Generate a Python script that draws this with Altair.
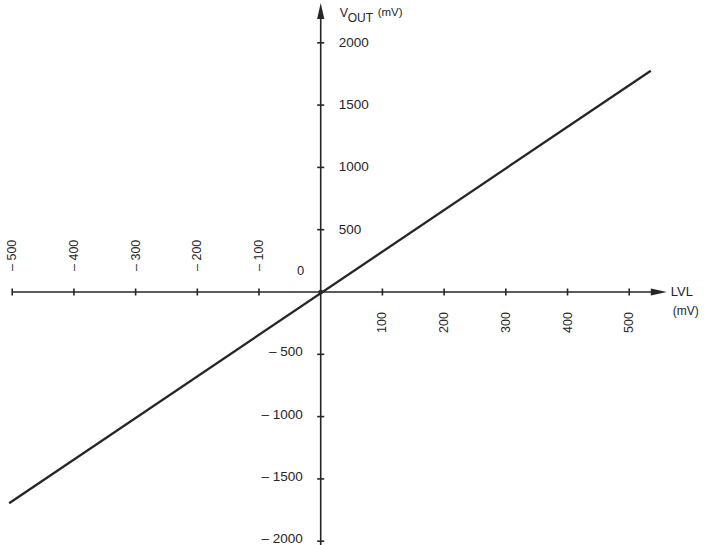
import altair as alt
import pandas as pd

# Transfer characteristic: output voltage vs. LVL input (mV)
lvl_mv = [-505, 535]
vout_mv = [-1696, 1776]

# Axis ticks and their labels
x_ticks = [-500, -400, -300, -200, -100, 100, 200, 300, 400, 500]
x_neg_ticks = [-500, -400, -300, -200, -100]
x_neg_labels = ["\u2013 500", "\u2013 400", "\u2013 300", "\u2013 200", "\u2013 100"]
x_pos_ticks = [100, 200, 300, 400, 500]
x_pos_labels = ["100", "200", "300", "400", "500"]

y_ticks = [2000, 1500, 1000, 500, -500, -1000, -1500, -2000]
y_pos_ticks = [2000, 1500, 1000, 500]
y_pos_labels = ["2000", "1500", "1000", "500"]
y_neg_ticks = [-500, -1000, -1500, -2000]
y_neg_labels = ["\u2013 500", "\u2013 1000", "\u2013 1500", "\u2013 2000"]

INK = "#262626"
FONT = "Liberation Sans"

xs = alt.Scale(domain=[-519.8, 627.7], nice=False, zero=False)
ys = alt.Scale(domain=[-2030.5, 2343.5], nice=False, zero=False)


def X(field):
    return alt.X(field, type="quantitative", scale=xs, axis=None)


def Y(field):
    return alt.Y(field, type="quantitative", scale=ys, axis=None)


def XD(v):
    return alt.X(datum=v, scale=xs, axis=None)


def YD(v):
    return alt.Y(datum=v, scale=ys, axis=None)


curve_df = pd.DataFrame({"lvl": lvl_mv, "vout": vout_mv})
curve = alt.Chart(curve_df).mark_line(color=INK, strokeWidth=2.3).encode(
    x=X("lvl"), y=Y("vout")
)

# Axis lines crossing at the origin
h_axis = alt.Chart(pd.DataFrame({"a": [-500], "b": [550], "y": [0]})).mark_rule(
    color=INK, strokeWidth=1.6
).encode(x=X("a"), x2="b", y=Y("y"))
v_axis = alt.Chart(pd.DataFrame({"a": [-2031], "b": [2250], "x": [0]})).mark_rule(
    color=INK, strokeWidth=1.6
).encode(y=Y("a"), y2="b", x=X("x"))

# Arrow heads
arrow_right = alt.Chart(pd.DataFrame({"x": [548], "y": [0]})).mark_point(
    shape="M-1,-0.45L1,0L-1,0.45Z", size=256, filled=True, color=INK, opacity=1
).encode(x=X("x"), y=Y("y"))
arrow_up = alt.Chart(pd.DataFrame({"x": [0], "y": [2255]})).mark_point(
    shape="M-0.45,1L0,-1L0.45,1Z", size=256, filled=True, color=INK, opacity=1
).encode(x=X("x"), y=Y("y"))

origin = alt.Chart(pd.DataFrame({"x": [0], "y": [0]})).mark_point(
    shape="circle", size=22, filled=True, color=INK, opacity=1
).encode(x=X("x"), y=Y("y"))

# Tick marks
x_tick_marks = alt.Chart(pd.DataFrame({"x": x_ticks, "y": [0] * len(x_ticks)})).mark_tick(
    orient="vertical", size=7, thickness=1.6, color=INK, opacity=1
).encode(x=X("x"), y=Y("y"))
y_tick_marks = alt.Chart(pd.DataFrame({"y": y_ticks, "x": [0] * len(y_ticks)})).mark_tick(
    orient="horizontal", size=7, thickness=1.6, color=INK, opacity=1
).encode(x=X("x"), y=Y("y"))

# Tick labels
x_neg_text = alt.Chart(pd.DataFrame({"x": x_neg_ticks, "t": x_neg_labels})).mark_text(
    angle=270, align="left", baseline="middle", font=FONT, fontSize=12.5,
    color=INK, yOffset=-21
).encode(x=X("x"), y=YD(0), text="t")
x_pos_text = alt.Chart(pd.DataFrame({"x": x_pos_ticks, "t": x_pos_labels})).mark_text(
    angle=270, align="left", baseline="middle", font=FONT, fontSize=12.5,
    color=INK, yOffset=41
).encode(x=X("x"), y=YD(0), text="t")

y_pos_text = alt.Chart(pd.DataFrame({"y": y_pos_ticks, "t": y_pos_labels})).mark_text(
    align="left", baseline="middle", font=FONT, fontSize=13.5, color=INK, xOffset=18
).encode(y=Y("y"), x=XD(0), text="t")
y_neg_text = alt.Chart(pd.DataFrame({"y": y_neg_ticks, "t": y_neg_labels})).mark_text(
    align="right", baseline="middle", font=FONT, fontSize=13.5, color=INK,
    xOffset=-18, yOffset=-2
).encode(y=Y("y"), x=XD(0), text="t")

zero_text = alt.Chart(pd.DataFrame({"t": ["0"]})).mark_text(
    align="center", baseline="middle", font=FONT, fontSize=13, color=INK,
    xOffset=-20, yOffset=-21
).encode(x=XD(0), y=YD(0), text="t")

# Axis titles
lvl_title = alt.Chart(pd.DataFrame({"t": ["LVL"]})).mark_text(
    align="left", baseline="middle", font=FONT, fontSize=13, color=INK, xOffset=4
).encode(x=XD(561), y=YD(0), text="t")
lvl_unit = alt.Chart(pd.DataFrame({"t": ["(mV)"]})).mark_text(
    align="left", baseline="middle", font=FONT, fontSize=12, color=INK, xOffset=6, yOffset=19
).encode(x=XD(561), y=YD(0), text="t")

vout_v = alt.Chart(pd.DataFrame({"t": ["V"]})).mark_text(
    align="left", baseline="middle", font=FONT, fontSize=12.5, color=INK, xOffset=19
).encode(x=XD(0), y=YD(2240), text="t")
vout_sub = alt.Chart(pd.DataFrame({"t": ["OUT"]})).mark_text(
    align="left", baseline="middle", font=FONT, fontSize=12, color=INK, xOffset=27, yOffset=5
).encode(x=XD(0), y=YD(2240), text="t")
vout_unit = alt.Chart(pd.DataFrame({"t": ["(mV)"]})).mark_text(
    align="left", baseline="middle", font=FONT, fontSize=11.5, color=INK, xOffset=57, yOffset=0
).encode(x=XD(0), y=YD(2240), text="t")

chart = alt.layer(
    h_axis, v_axis, arrow_right, arrow_up, x_tick_marks, y_tick_marks, curve, origin,
    x_neg_text, x_pos_text, y_pos_text, y_neg_text, zero_text,
    lvl_title, lvl_unit, vout_v, vout_sub, vout_unit,
).properties(
    width=708, height=545, padding=0, background="white",
    autosize=alt.AutoSizeParams(type="none"),
).configure_view(strokeWidth=0)

chart.save("out.html", embed_options={"renderer": "svg", "actions": False})
